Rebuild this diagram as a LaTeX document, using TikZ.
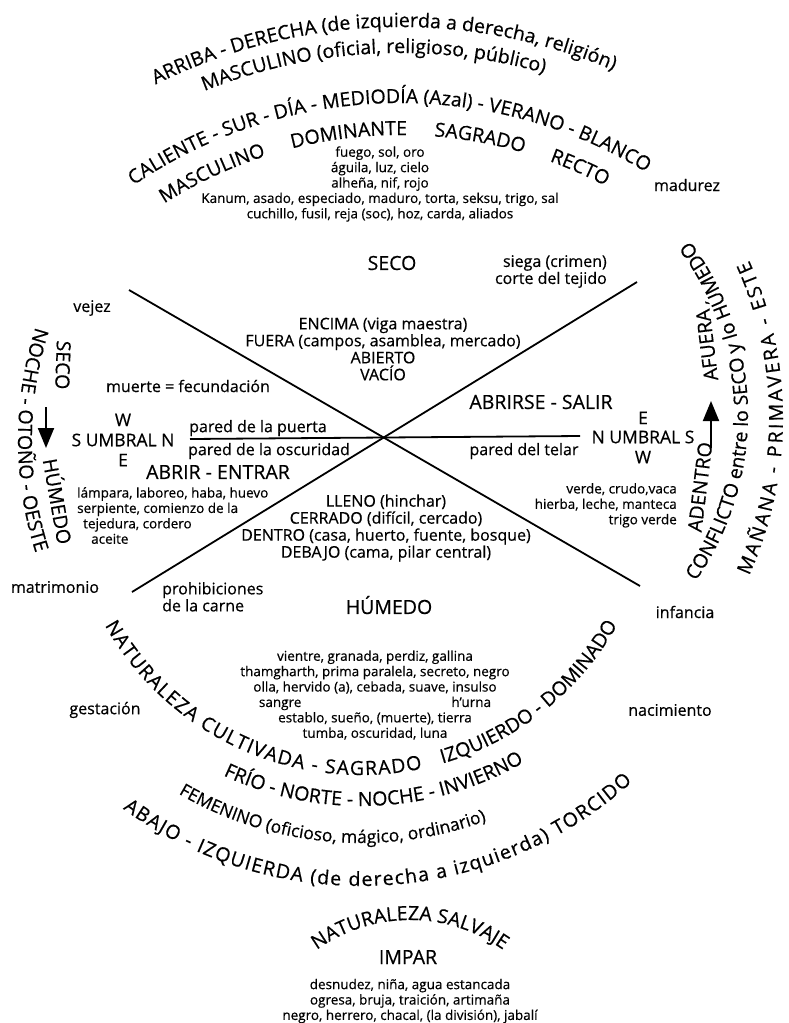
\documentclass[tikz,border=0pt]{standalone}
\usepackage{fontspec}
\setmainfont{Open Sans}[FakeBold=0.5]
\usetikzlibrary{arrows.meta, positioning, calc, decorations.text}

\newcommand{\fbig}{\fontsize{19.5}{22}\selectfont}
\newcommand{\ffem}{\fontsize{17.5}{20}\selectfont}
\newcommand{\fumb}{\fontsize{17.5}{20}\selectfont}
\newcommand{\fmid}{\fontsize{16}{17}\selectfont}
\newcommand{\fsmall}{\fontsize{13.5}{15.4}\selectfont}

% curved text: [font] centre, radius, start angle, end angle, extra options, text
\newcommand{\arctext}[7][\fbig]{%
  \path[decorate, decoration={text along path, text align=center, #6, text={|#1|#7}}]
    ($(#2)+(#4:#3)$) arc[start angle=#4, end angle=#5, radius=#3];}

\begin{document}
\begin{tikzpicture}[
  x=1pt, y=1pt,
  wall/.style={line width=1.8pt},
  dirarrow/.style={line width=2pt, -{Triangle[length=20pt, width=16pt]}},
  bigtxt/.style={font=\fbig, inner sep=0pt},
  umbtxt/.style={font=\fumb, inner sep=0pt},
  midtxt/.style={font=\fmid, inner sep=0pt, align=center},
  listtxt/.style={font=\fsmall, inner sep=0pt, align=center}
]
\useasboundingbox (0,0) rectangle (788,-1023);

% centres of the curved lines
\coordinate (Ctop)   at (400,-575);
\coordinate (Cbot)   at (361,-481);
\coordinate (Csalv)  at (410,-1080);
\coordinate (Cwest)  at (388,-440);
\coordinate (Ceast)  at (400,-418);
\coordinate (Cconf)  at (458,-415);

% top arcs
\arctext{Ctop}{548}{121.8}{61.8}{}{ARRIBA - DERECHA (de izquierda a derecha, religión)}
\arctext{Ctop}{522}{123}{63}{}{MASCULINO (oficial, religioso, público)}
\arctext{Ctop}{472}{131.5}{51.5}{}{CALIENTE - SUR - DÍA - MEDIODÍA (Azal) - VERANO - BLANCO}
\arctext{Ctop}{440}{122.4}{62.2}{text align={fit to path stretching spaces}}{MASCULINO DOMINANTE SAGRADO RECTO}

\node[listtxt] (fuego) at (380,-184) {fuego, sol, oro\\águila, luz, cielo\\alheña, nif, rojo\\Kanum, asado, especiado, maduro, torta, seksu, trigo, sal\\cuchillo, fusil, reja (soc), hoz, carda, aliados};
\node[midtxt] (madurez) at (687,-185) {madurez};

% upper triangle
\node[bigtxt] (secoN) at (392,-263) {SECO};
\node[midtxt, align=right, anchor=north east] (siega) at (607,-255) {siega (crimen)\\corte del tejido};
\node[midtxt] (vejez) at (92,-308) {vejez};
\node[midtxt] (encima) at (383,-349) {ENCIMA (viga maestra)\\FUERA (campos, asamblea, mercado)\\ABIERTO\\VACÍO};
\node[midtxt] (muerte) at (188,-386) {muerte = fecundación};

% the walls
\coordinate (wallNW) at (129,-290);
\coordinate (wallSE) at (640,-586);
\coordinate (wallNE) at (637,-282);
\coordinate (wallSW) at (132,-592);
\coordinate (wallW)  at (190,-439);
\coordinate (wallE)  at (580,-436);
\draw[wall] (wallNW) -- (wallSE);
\draw[wall] (wallNE) -- (wallSW);
\draw[wall] (wallW) -- (wallE);

% threshold, west
\node[umbtxt] (umbralW) at (123,-440) {S UMBRAL N};
\node[umbtxt, above=7pt of umbralW] (wW) {W};
\node[umbtxt, below=7pt of umbralW] (eW) {E};
\node[midtxt] (puerta) at (258,-428) {pared de la puerta};
\node[midtxt] (oscuridad) at (269,-451) {pared de la oscuridad};
\node[bigtxt] (abrir) at (218,-472) {ABRIR - ENTRAR};
\node[listtxt, align=left, anchor=north west] (listW) at (77,-487) {lámpara, laboreo, haba, huevo\\serpiente, comienzo de la\\\hspace*{6pt}tejedura, cordero\\\hspace*{14pt}aceite};

% threshold, east
\node[bigtxt] (abrirse) at (541,-402) {ABRIRSE - SALIR};
\node[umbtxt] (umbralE) at (643,-437) {N UMBRAL S};
\node[umbtxt, above=6pt of umbralE] (eE) {E};
\node[umbtxt, below=7pt of umbralE] (wE) {W};
\node[midtxt] (telar) at (524,-451) {pared del telar};
\node[listtxt, align=right, anchor=north east] (listE) at (677,-483) {verde, crudo,vaca\\hierba, leche, manteca\\trigo verde};

% lower triangle
\node[midtxt] (lleno) at (386,-528) {LLENO (hinchar)\\CERRADO (difícil, cercado)\\DENTRO (casa, huerto, fuente, bosque)\\DEBAJO (cama, pilar central)};
\node[midtxt] (matrimonio) at (55,-587) {matrimonio};
\node[midtxt, align=left, anchor=north west] (prohib) at (162,-582) {prohibiciones\\de la carne};
\node[bigtxt] (humedoS) at (389,-605) {HÚMEDO};
\node[midtxt] (infancia) at (685,-612) {infancia};

% west side
\arctext{Cwest}{370}{150}{210}{}{NOCHE - OTOÑO - OESTE}
\node[bigtxt, rotate=-92] (secoW) at (63,-365) {SECO};
\node[bigtxt, rotate=-80] (humedoW) at (59,-501) {HÚMEDO};
\coordinate (arrWtail) at (46,-407);
\coordinate (arrWtip)  at (46,-448);
\draw[dirarrow] (arrWtail) -- (arrWtip);

% east side
\arctext{Ceast}{383}{-24.3}{24.3}{text align=fit to path}{MAÑANA - PRIMAVERA - ESTE}
\arctext{Cconf}{290}{-45}{47}{}{CONFLICTO entre lo SECO y lo HÚMEDO}
\node[bigtxt, rotate=83] (adentro) at (700,-487) {ADENTRO};
\node[bigtxt, rotate=97] (afuera) at (707,-345) {AFUERA};
\coordinate (arrEtail) at (711,-448);
\coordinate (arrEtip)  at (711,-401);
\draw[dirarrow] (arrEtail) -- (arrEtip);

% bottom arcs
\node[listtxt] (vientre) at (375,-695) {vientre, granada, perdiz, gallina\\thamgharth, prima paralela, secreto, negro\\olla, hervido (a), cebada, suave, insulso\\sangre\hspace{150pt}h'urna\\establo, sueño, (muerte), tierra\\tumba, oscuridad, luna};
\node[midtxt] (gestacion) at (105,-710) {gestación};
\node[midtxt] (nacimiento) at (670,-710) {nacimiento};
\arctext{Cbot}{294}{209.4}{282}{text align=fit to path}{NATURALEZA CULTIVADA - SAGRADO}
\arctext{Cbot}{294}{270}{330.7}{text align=right}{IZQUIERDO - DOMINADO}
\arctext{Cbot}{325}{232}{313}{}{FRÍO - NORTE - NOCHE - INVIERNO}
\arctext[\ffem]{Cbot}{362}{225}{305}{}{FEMENINO (oficioso, mágico, ordinario)}
\arctext{Cbot}{405}{234}{312}{text align=fit to path}{ABAJO - IZQUIERDA (de derecha a izquierda) TORCIDO}

% wild nature
\arctext{Csalv}{160}{150}{30}{}{NATURALEZA SALVAJE}
\node[bigtxt] (impar) at (408,-957) {IMPAR};
\node[listtxt] (desnudez) at (410,-1001) {desnudez, niña, agua estancada\\ogresa, bruja, traición, artimaña\\negro, herrero, chacal, (la división), jabalí};

\end{tikzpicture}
\end{document}
